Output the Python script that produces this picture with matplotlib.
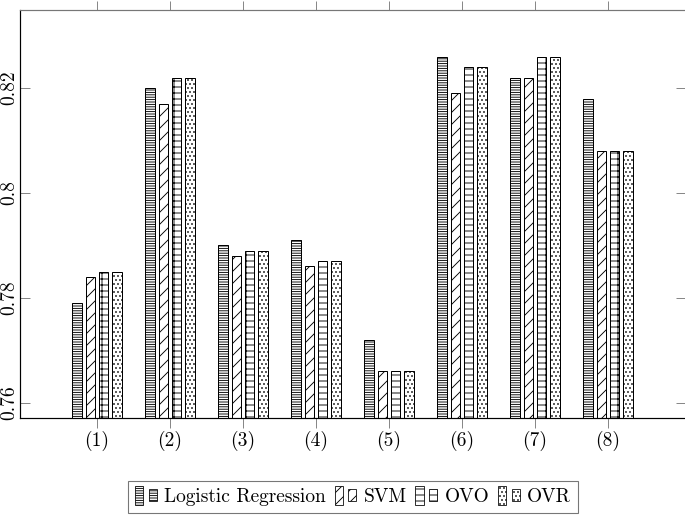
import matplotlib
matplotlib.use("Agg")
import matplotlib.pyplot as plt
import numpy as np
from matplotlib.patches import Rectangle
from matplotlib.legend_handler import HandlerBase

plt.rcParams['font.family'] = ['cmr10', 'DejaVu Serif']
plt.rcParams['axes.formatter.use_mathtext'] = True
plt.rcParams['hatch.linewidth'] = 0.9

categories = ['(1)', '(2)', '(3)', '(4)', '(5)', '(6)', '(7)', '(8)']
series_names = ['Logistic Regression', 'SVM', 'OVO', 'OVR']
lr = [0.779, 0.820, 0.790, 0.791, 0.772, 0.826, 0.822, 0.818]
svm = [0.784, 0.817, 0.788, 0.786, 0.766, 0.819, 0.822, 0.808]
ovo = [0.785, 0.822, 0.789, 0.787, 0.766, 0.824, 0.826, 0.808]
ovr = [0.785, 0.822, 0.789, 0.787, 0.766, 0.824, 0.826, 0.808]
yticks = [0.76, 0.78, 0.80, 0.82]
ytick_labels = ['0.76', '0.78', '0.8', '0.82']

hatches = ['-----', '//', '+-', '...']
series = [lr, svm, ovo, ovr]

DPI = 72
FS = 19.4
fig = plt.figure(figsize=(685 / DPI, 516 / DPI), dpi=DPI)
ax = fig.add_axes([20/685, 1-418/516, 665/685, 408/516])

x = np.arange(1, len(categories) + 1)
step = 0.183
width = 0.13
handles = []
for i, (vals, h, name) in enumerate(zip(series, hatches, series_names)):
    bars = ax.bar(x + (i - 1.5) * step, vals, width=width, bottom=0,
                  facecolor='white', edgecolor='black', linewidth=1.0,
                  hatch=h, label=name)
    handles.append(bars[0])

ax.set_xlim(1 - 77/73, 8 + 77/73)
ax.set_ylim(0.76 - 15/105*0.02, 0.82 + 78/105*0.02)
ax.set_xticks(x)
ax.set_xticklabels(categories, fontsize=FS)
ax.set_yticks(yticks)
ax.set_yticklabels(ytick_labels, fontsize=FS, rotation=90, va='center')
ax.tick_params(axis='x', direction='out', length=9.5, width=1.0, color='#888888',
               top=True, bottom=True, pad=3)
ax.tick_params(axis='y', direction='in', length=9.5, width=1.0, color='#888888',
               left=True, right=True, pad=2)
for s in ['left', 'bottom', 'top']:
    ax.spines[s].set_linewidth(1.2)
ax.spines['top'].set_color('#777777')
ax.spines['right'].set_visible(False)


class TwoBar(HandlerBase):
    def create_artists(self, legend, orig_handle, xdescent, ydescent,
                       width, height, fontsize, trans):
        hh = orig_handle.get_hatch()
        r1 = Rectangle((-xdescent, -ydescent - 0.2 * height), width * 0.32,
                       height * 1.4, facecolor='white', edgecolor='black',
                       hatch=hh, lw=0.8, transform=trans)
        r2 = Rectangle((-xdescent + width * 0.55, -ydescent + 0.05 * height),
                       width * 0.32, height * 0.9, facecolor='white',
                       edgecolor='black', hatch=hh, lw=0.8, transform=trans)
        return [r1, r2]


leg = fig.legend(handles, series_names, loc='center',
                 bbox_to_anchor=(353/685, 1-497/516), ncol=4,
                 handler_map={h: TwoBar() for h in handles},
                 fontsize=FS, frameon=True, fancybox=False,
                 handlelength=1.3, handletextpad=0.2, columnspacing=0.45,
                 borderpad=0.35, borderaxespad=0)
leg.get_frame().set_edgecolor('#555555')
leg.get_frame().set_linewidth(1.1)

fig.savefig('out.png', dpi=DPI)
